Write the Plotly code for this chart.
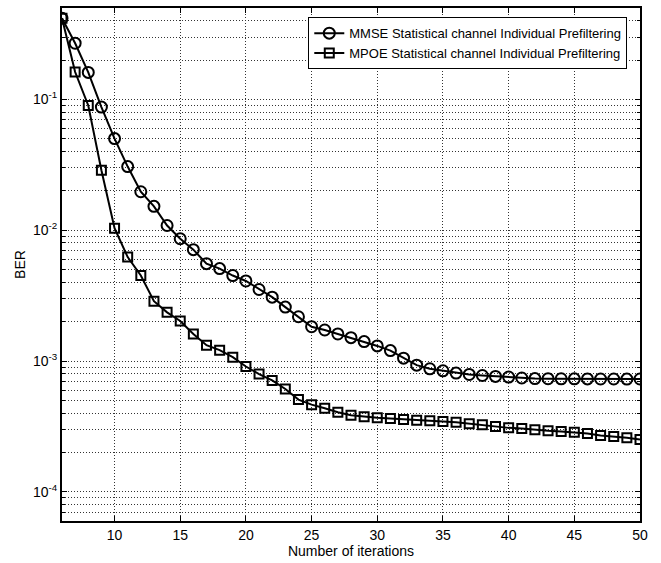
import plotly.graph_objects as go

# Iteration index for both equalizers
iterations = list(range(6, 51))

# Bit error rate per iteration, MMSE statistical channel with individual prefiltering
ber_mmse = [0.417, 0.269, 0.161, 0.0874, 0.0502, 0.0307, 0.0197, 0.01525, 0.01088,
            0.00862, 0.00711, 0.00556, 0.0051, 0.00451, 0.0041, 0.003528, 0.003083,
            0.002588, 0.002184, 0.001833, 0.00173, 0.001613, 0.001512, 0.00141,
            0.001307, 0.001204, 0.001054, 0.000932, 0.000874, 0.000844, 0.00081,
            0.000791, 0.000777, 0.000764, 0.000756, 0.000743, 0.000736, 0.000734,
            0.000733, 0.000732, 0.000731, 0.00073, 0.00073, 0.000729, 0.00073]

# Bit error rate per iteration, MPOE statistical channel with individual prefiltering
ber_mpoe = [0.417, 0.162, 0.090, 0.0288, 0.01037, 0.00624, 0.00451, 0.002874,
            0.002359, 0.002025, 0.001613, 0.001323, 0.001213, 0.001072, 0.00091,
            0.000796, 0.000712, 0.000613, 0.000508, 0.000465, 0.000436, 0.000407,
            0.000386, 0.000375, 0.000369, 0.000364, 0.000358, 0.000353, 0.00035,
            0.000345, 0.000341, 0.000332, 0.000326, 0.000317, 0.000309, 0.000306,
            0.000299, 0.000294, 0.00029, 0.000286, 0.00028, 0.00027, 0.000266,
            0.00026, 0.000252]

series_names = ["MMSE Statistical channel Individual Prefiltering",
                "MPOE Statistical channel Individual Prefiltering"]

x_ticks = [10, 15, 20, 25, 30, 35, 40, 45, 50]
decades = [1e-4, 1e-3, 1e-2, 1e-1]
decade_labels = ["10<sup>-4</sup>", "10<sup>-3</sup>", "10<sup>-2</sup>", "10<sup>-1</sup>"]

# minor grid lines at the 2..9 multiples of each decade
y_minor = []
for d in [1e-5] + decades:
    for m in range(2, 10):
        v = d * m
        if 6e-5 <= v <= 0.5 + 1e-12:
            y_minor.append(v)

FONT = "Liberation Sans, Arial, Helvetica, sans-serif"
GRID = dict(showgrid=True, gridcolor="#333", griddash="1px,2px", gridwidth=1)

fig = go.Figure()
fig.add_trace(go.Scatter(
    x=iterations, y=ber_mmse, name=series_names[0], mode="lines+markers",
    line=dict(color="black", width=2),
    marker=dict(symbol="circle-open", size=11, color="black", line=dict(width=2)),
))
fig.add_trace(go.Scatter(
    x=iterations, y=ber_mpoe, name=series_names[1], mode="lines+markers",
    line=dict(color="black", width=2),
    marker=dict(symbol="square-open", size=9, color="black", line=dict(width=2)),
))

fig.update_layout(
    width=661, height=563,
    margin=dict(l=62, r=21, t=6, b=41),
    paper_bgcolor="white", plot_bgcolor="white",
    font=dict(family=FONT, size=14, color="black"),
    showlegend=True,
    legend=dict(
        x=0.978, y=0.982, xanchor="right", yanchor="top",
        bgcolor="white", bordercolor="black", borderwidth=1,
        font=dict(family=FONT, size=13, color="black"),
        itemwidth=30, tracegroupgap=0,
    ),
    xaxis=dict(
        range=[6, 50], tickvals=x_ticks, ticktext=[str(v) for v in x_ticks],
        showline=True, linecolor="black", linewidth=2, mirror="allticks",
        ticks="inside", ticklen=5, tickcolor="black",
        zeroline=False, **GRID,
        title=dict(text="Number of iterations", font=dict(size=14), standoff=4),
    ),
    yaxis=dict(
        type="log", range=[-4.2218, -0.30103],
        tickvals=decades, ticktext=decade_labels,
        showline=True, linecolor="black", linewidth=2, mirror="allticks",
        ticks="inside", ticklen=5, tickcolor="black",
        zeroline=False, **GRID,
        minor=dict(tickvals=y_minor, ticks="inside", ticklen=3, tickcolor="black",
                   showgrid=True, gridcolor="#333", griddash="1px,2px", gridwidth=1),
        title=dict(text="BER", font=dict(size=14), standoff=4),
    ),
)

fig.write_html("out.html")
